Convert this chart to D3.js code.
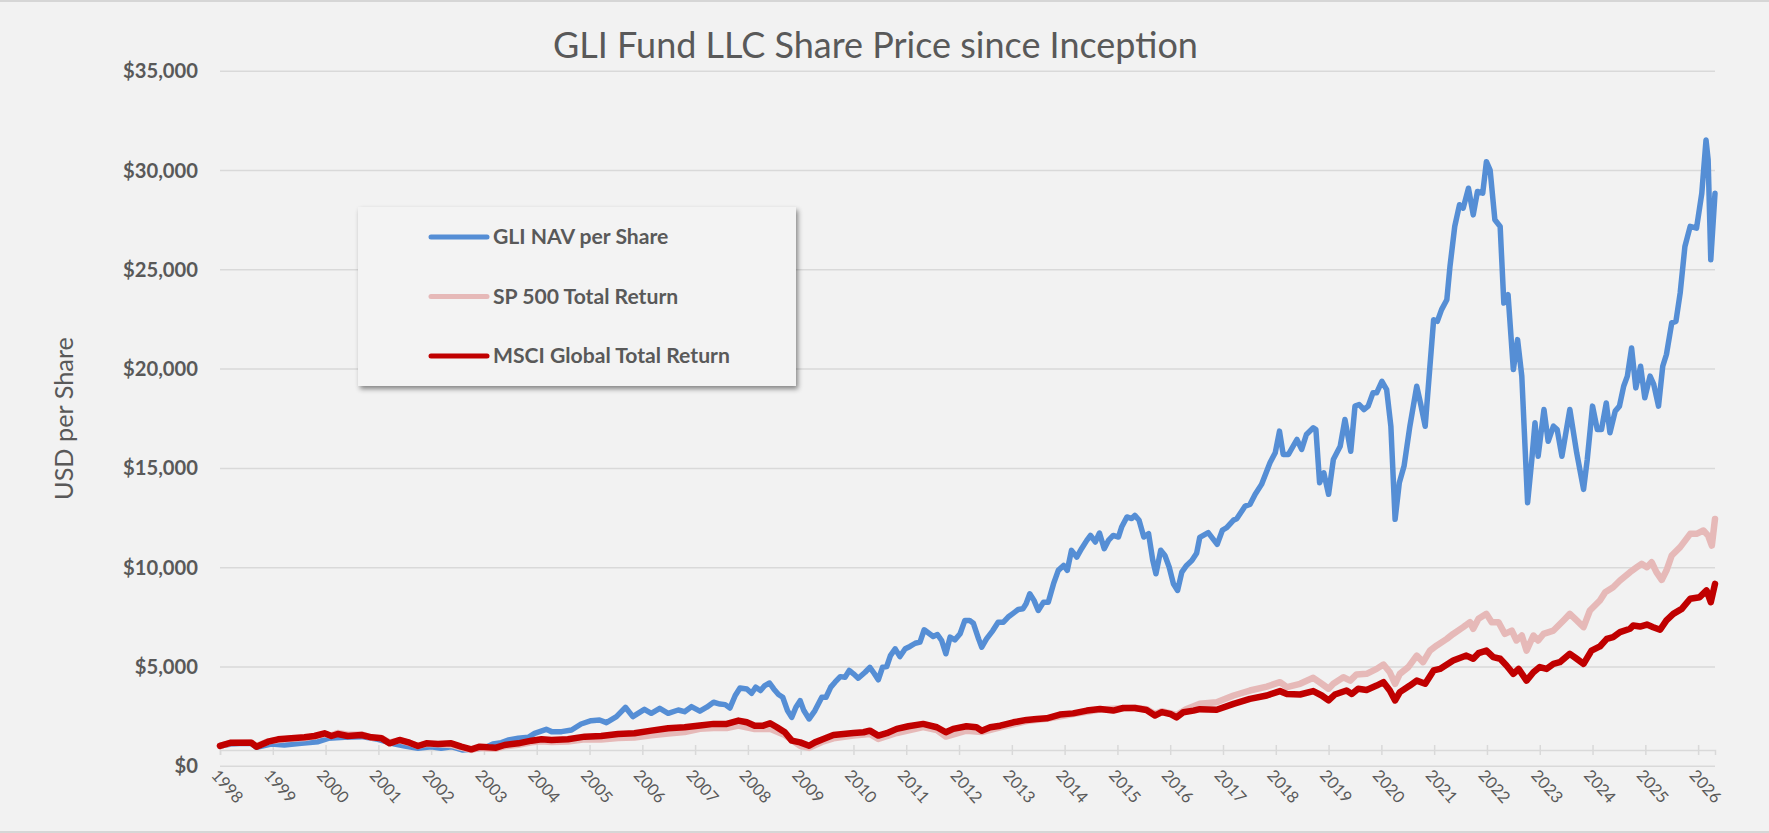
<!DOCTYPE html>
<html><head><meta charset="utf-8">
<script src="https://cdn.jsdelivr.net/npm/d3@7"></script>
<style>html,body{margin:0;padding:0;background:#f2f2f2;overflow:hidden}svg{display:block}</style>
</head><body><svg id="chart" width="1769" height="833"></svg>
<script>
const chartTitle = "GLI Fund LLC Share Price since Inception";
const yAxisTitle = "USD per Share";
const seriesNames = ["GLI NAV per Share", "SP 500 Total Return", "MSCI Global Total Return"];
const yTicks = [0, 5000, 10000, 15000, 20000, 25000, 30000, 35000];
const xTickYears = d3.range(1998, 2027);

const gliDates = [1998.00,1998.21,1998.45,1998.59,1998.69,1998.97,1999.22,1999.54,1999.86,2000.05,2000.36,2000.68,2000.99,2001.31,2001.50,2001.75,2002.00,2002.19,2002.38,2002.60,2002.76,2003.01,2003.17,2003.33,2003.46,2003.65,2003.84,2003.96,2004.18,2004.28,2004.47,2004.66,2004.84,2005.03,2005.19,2005.32,2005.51,2005.68,2005.82,2006.04,2006.17,2006.33,2006.49,2006.68,2006.80,2006.93,2007.09,2007.22,2007.35,2007.47,2007.57,2007.66,2007.76,2007.85,2007.98,2008.07,2008.15,2008.24,2008.32,2008.41,2008.49,2008.58,2008.66,2008.75,2008.83,2008.91,2008.99,2009.06,2009.16,2009.27,2009.40,2009.48,2009.57,2009.65,2009.75,2009.84,2009.92,2010.00,2010.09,2010.22,2010.31,2010.39,2010.47,2010.55,2010.63,2010.70,2010.79,2010.88,2010.98,2011.07,2011.17,2011.26,2011.34,2011.44,2011.51,2011.59,2011.67,2011.75,2011.83,2011.92,2012.02,2012.11,2012.20,2012.27,2012.37,2012.43,2012.52,2012.64,2012.74,2012.84,2012.93,2013.03,2013.12,2013.21,2013.27,2013.34,2013.42,2013.50,2013.60,2013.69,2013.79,2013.88,2013.98,2014.05,2014.13,2014.23,2014.32,2014.42,2014.49,2014.58,2014.66,2014.75,2014.83,2014.92,2015.02,2015.08,2015.18,2015.27,2015.33,2015.41,2015.50,2015.59,2015.67,2015.73,2015.82,2015.90,2015.98,2016.06,2016.14,2016.22,2016.31,2016.41,2016.50,2016.56,2016.72,2016.89,2016.99,2017.07,2017.20,2017.26,2017.42,2017.51,2017.61,2017.73,2017.89,2017.99,2018.07,2018.14,2018.24,2018.40,2018.49,2018.58,2018.71,2018.76,2018.83,2018.91,2019.00,2019.09,2019.22,2019.31,2019.42,2019.50,2019.58,2019.67,2019.75,2019.84,2019.91,2020.01,2020.10,2020.18,2020.26,2020.34,2020.43,2020.54,2020.67,2020.74,2020.83,2020.92,2020.99,2021.06,2021.14,2021.24,2021.30,2021.39,2021.48,2021.55,2021.65,2021.74,2021.82,2021.92,2021.99,2022.06,2022.15,2022.25,2022.32,2022.40,2022.50,2022.58,2022.66,2022.77,2022.85,2022.91,2022.97,2023.08,2023.16,2023.26,2023.33,2023.42,2023.57,2023.70,2023.83,2023.90,2024.00,2024.09,2024.17,2024.26,2024.33,2024.43,2024.51,2024.59,2024.66,2024.74,2024.82,2024.91,2024.99,2025.09,2025.16,2025.25,2025.33,2025.40,2025.50,2025.58,2025.66,2025.75,2025.85,2025.97,2026.07,2026.15,2026.19,2026.24,2026.32];
const gliValues = [1000,1100,1130,1120,930,1098,1047,1132,1215,1384,1434,1468,1333,1098,997,879,963,879,963,795,829,900,1100,1165,1300,1384,1434,1635,1837,1720,1720,1803,2105,2273,2307,2172,2475,2945,2475,2844,2643,2894,2643,2810,2726,2978,2750,2950,3200,3110,3080,2910,3540,3920,3870,3650,3960,3790,4040,4170,3870,3590,3450,2780,2440,2950,3280,2780,2360,2780,3450,3450,3960,4210,4490,4460,4800,4630,4410,4710,4960,4660,4330,4960,5000,5550,5890,5500,5890,6010,6170,6230,6850,6650,6510,6610,6310,5640,6480,6340,6650,7320,7320,7180,6390,5970,6390,6810,7230,7230,7490,7690,7870,7910,8160,8660,8330,7820,8240,8240,9170,9840,10090,9840,10850,10510,10930,11350,11600,11270,11720,10930,11350,11600,11520,12020,12530,12450,12610,12360,11520,11690,10340,9670,10850,10590,10010,9170,8830,9750,10090,10340,10700,11500,11740,11150,11870,11990,12370,12440,13080,13160,13670,14170,15260,15760,16850,15680,15680,16430,15930,16680,17020,16930,14250,14750,13670,15420,16090,17440,15840,18110,18190,17940,18110,18780,18780,19360,18940,17100,12410,14250,15090,17100,19110,18270,17100,20120,22460,22380,22970,23470,25150,27160,28250,28080,29080,27740,28920,28830,30420,30000,27490,27160,23300,23720,19950,21460,19620,13250,15420,17270,15590,17940,16340,17100,16930,15590,17940,15760,13920,15420,18110,16930,16930,18270,16770,17860,18110,19110,19620,21040,19030,20120,18530,19620,19200,18110,20120,20710,22300,22380,23800,26150,27160,27070,28830,31510,30510,25480,28830];

const spDates = [1998.00,1998.21,1998.59,1998.69,1998.91,1999.10,1999.35,1999.60,1999.79,1999.98,2000.11,2000.23,2000.42,2000.68,2000.87,2001.06,2001.21,2001.40,2001.59,2001.75,2001.91,2002.13,2002.38,2002.57,2002.76,2002.92,2003.08,2003.23,2003.39,2003.65,2003.90,2004.09,2004.28,2004.59,2004.91,2005.22,2005.54,2005.85,2006.17,2006.49,2006.80,2007.09,2007.35,2007.60,2007.82,2008.13,2008.42,2008.70,2008.99,2009.16,2009.40,2009.62,2010.00,2010.31,2010.47,2010.82,2011.32,2011.58,2011.75,2012.14,2012.43,2012.78,2013.28,2013.66,2014.16,2014.67,2015.11,2015.33,2015.55,2015.71,2015.84,2016.12,2016.30,2016.56,2016.88,2017.20,2017.51,2017.83,2018.08,2018.21,2018.46,2018.71,2018.87,2019.00,2019.09,2019.28,2019.41,2019.53,2019.72,2019.91,2020.04,2020.16,2020.26,2020.35,2020.51,2020.67,2020.79,2020.92,2021.05,2021.24,2021.36,2021.55,2021.68,2021.74,2021.84,2021.99,2022.09,2022.22,2022.34,2022.47,2022.56,2022.66,2022.75,2022.88,2022.97,2023.07,2023.26,2023.45,2023.57,2023.70,2023.83,2023.95,2024.14,2024.24,2024.39,2024.52,2024.71,2024.84,2024.93,2025.03,2025.12,2025.21,2025.31,2025.40,2025.50,2025.66,2025.85,2025.97,2026.10,2026.19,2026.26,2026.32];
const spValues = [1000,1150,1180,990,1230,1300,1360,1400,1480,1600,1520,1650,1560,1580,1420,1400,1180,1280,1150,1000,1100,1080,1050,920,800,900,870,860,980,1060,1180,1230,1200,1220,1330,1330,1400,1420,1540,1630,1700,1860,1900,1900,2020,1850,1860,1550,1010,900,1200,1380,1520,1600,1350,1650,1950,1800,1470,1770,1700,1940,2250,2370,2600,2830,2900,2920,2850,2610,2750,2560,2850,3120,3200,3540,3790,3990,4210,3960,4130,4430,4130,3880,4130,4460,4290,4600,4630,4880,5100,4710,4130,4630,4970,5550,5220,5800,6060,6390,6640,6980,7230,6900,7400,7650,7230,7230,6640,6810,6310,6560,5800,6560,6310,6640,6810,7320,7650,7320,6980,7820,8320,8740,8990,9330,9750,10000,10170,10000,10250,9750,9360,9830,10590,11010,11680,11680,11850,11590,11090,12430];

const msciDates = [1998.00,1998.21,1998.59,1998.69,1998.91,1999.10,1999.35,1999.60,1999.79,1999.98,2000.11,2000.23,2000.42,2000.68,2000.87,2001.06,2001.21,2001.40,2001.59,2001.75,2001.91,2002.13,2002.38,2002.57,2002.76,2002.92,2003.08,2003.23,2003.39,2003.65,2003.90,2004.09,2004.28,2004.59,2004.91,2005.22,2005.54,2005.85,2006.17,2006.49,2006.80,2007.09,2007.35,2007.60,2007.82,2007.98,2008.13,2008.29,2008.42,2008.55,2008.70,2008.83,2008.99,2009.16,2009.27,2009.43,2009.62,2009.81,2010.00,2010.19,2010.31,2010.47,2010.63,2010.82,2011.04,2011.32,2011.58,2011.75,2011.89,2012.14,2012.33,2012.43,2012.59,2012.78,2013.03,2013.28,2013.47,2013.66,2013.91,2014.16,2014.42,2014.67,2014.92,2015.11,2015.33,2015.55,2015.71,2015.84,2016.00,2016.12,2016.25,2016.44,2016.56,2016.88,2017.20,2017.51,2017.83,2018.08,2018.21,2018.46,2018.71,2018.87,2019.00,2019.12,2019.34,2019.44,2019.56,2019.72,2019.91,2020.04,2020.16,2020.26,2020.35,2020.54,2020.67,2020.83,2020.99,2021.11,2021.36,2021.61,2021.74,2021.84,2021.99,2022.12,2022.25,2022.37,2022.50,2022.60,2022.75,2022.88,2023.00,2023.13,2023.26,2023.38,2023.57,2023.70,2023.83,2023.98,2024.14,2024.27,2024.39,2024.52,2024.71,2024.77,2024.90,2025.03,2025.15,2025.28,2025.40,2025.53,2025.69,2025.85,2026.03,2026.16,2026.24,2026.32];
const msciValues = [1000,1165,1165,963,1215,1333,1384,1434,1501,1635,1501,1602,1501,1552,1434,1384,1132,1300,1165,997,1132,1098,1132,963,829,963,930,913,1047,1132,1266,1333,1300,1333,1468,1501,1602,1635,1770,1887,1938,2030,2110,2110,2275,2190,2020,2020,2140,1940,1690,1270,1180,1010,1180,1350,1550,1600,1650,1690,1770,1520,1640,1860,1990,2110,1940,1690,1860,1990,1940,1770,1940,2020,2190,2310,2360,2390,2580,2640,2780,2860,2780,2910,2910,2810,2530,2700,2610,2440,2700,2780,2850,2820,3120,3370,3540,3760,3620,3590,3760,3540,3290,3590,3790,3620,3880,3820,4040,4210,3790,3290,3710,4040,4290,4130,4800,4880,5300,5550,5390,5670,5800,5470,5390,5050,4630,4880,4290,4710,4970,4880,5130,5220,5640,5390,5130,5800,6010,6390,6480,6730,6900,7060,7010,7110,6980,6850,7320,7650,7900,8410,8490,8830,8240,9160];

const seriesDates = [gliDates, spDates, msciDates];
const seriesValues = [gliValues, spValues, msciValues];
const seriesColors = ["#558ed5", "#e6b9b8", "#c00000"];
const seriesWidths = [5.5, 6.5, 6.5];

const W = 1769, H = 833;
const svg = d3.select("#chart");
const FONT = "Lato, 'Open Sans', sans-serif";
const GREY = "#595959";

const defs = svg.append("defs");
const f = defs.append("filter").attr("id", "shadow").attr("x", "-10%").attr("y", "-10%").attr("width", "120%").attr("height", "130%");
f.append("feDropShadow").attr("dx", 2).attr("dy", 3).attr("stdDeviation", 2.5).attr("flood-color", "#000").attr("flood-opacity", 0.45);

svg.append("rect").attr("width", W).attr("height", H).attr("fill", "#f2f2f2");
svg.append("line").attr("x1", 0).attr("x2", W).attr("y1", 1).attr("y2", 1).attr("stroke", "#d6d6d6").attr("stroke-width", 2);
svg.append("line").attr("x1", 0).attr("x2", W).attr("y1", 832).attr("y2", 832).attr("stroke", "#d6d6d6").attr("stroke-width", 2);

const x = d3.scaleLinear().domain([1998, 2026.32]).range([220, 1715]);
const y = d3.scaleLinear().domain([0, 35000]).range([765.8, 70.7]);

function fitGroup(sel, sample, target) {
  const w = sample.node().getComputedTextLength();
  const fs = parseFloat(sample.attr("font-size"));
  sel.attr("font-size", fs * target / w);
}

// gridlines
const grid = svg.append("g").attr("transform", "translate(220,0)")
  .call(d3.axisLeft(y).tickValues(yTicks).tickSize(-(1715 - 220)).tickFormat(""));
grid.select(".domain").remove();
grid.selectAll(".tick line").attr("stroke", "#d9d9d9").attr("stroke-width", 1.5);

// y labels
const yl = svg.append("g").attr("transform", "translate(198,0)")
  .call(d3.axisLeft(y).tickValues(yTicks).tickSize(0).tickPadding(0).tickFormat(d => "$" + d3.format(",")(d)));
yl.select(".domain").remove();
const ytx = yl.selectAll(".tick text").attr("font-family", FONT).attr("font-weight", "bold").attr("font-size", 18).attr("fill", GREY).attr("dy", "0.35em");
fitGroup(ytx, yl.selectAll(".tick text").filter(d => d === 35000), 75);

// x axis
const xa = svg.append("g").attr("transform", "translate(0,750)")
  .call(d3.axisBottom(x).tickValues(xTickYears).tickSizeOuter(0).tickSize(5).tickFormat(d3.format("d")));
xa.select(".domain").attr("stroke", "#d9d9d9").attr("stroke-width", 1.5);
xa.selectAll(".tick line").attr("y1", -5).attr("y2", 5).attr("stroke", "#d9d9d9").attr("stroke-width", 1.5);
const xtx = xa.selectAll(".tick text").attr("x", 0).attr("y", 0).attr("dy", 0)
  .attr("text-anchor", "start").attr("transform", "translate(-10,26) rotate(48)")
  .attr("font-family", FONT).attr("font-size", 17).attr("fill", GREY);
fitGroup(xtx, xa.selectAll(".tick text").filter(d => d === 1998), 38);

// lines
const line = d3.line().x(d => x(d[0])).y(d => y(d[1]));
seriesNames.forEach((name, i) => {
  const pts = seriesDates[i].map((t, j) => [t, seriesValues[i][j]]);
  svg.append("path").datum(pts).attr("d", line).attr("fill", "none")
    .attr("stroke", seriesColors[i]).attr("stroke-width", seriesWidths[i])
    .attr("stroke-linejoin", "round").attr("stroke-linecap", "round");
});

// title
const tt = svg.append("text").attr("x", 875.5).attr("y", 58).attr("text-anchor", "middle")
  .attr("font-family", FONT).attr("font-size", 32).attr("fill", GREY).text(chartTitle);
fitGroup(tt, tt, 645);

// y axis title
const at = svg.append("text").attr("transform", "translate(63,418.5) rotate(-90)").attr("text-anchor", "middle")
  .attr("dominant-baseline", "central").attr("font-family", FONT).attr("font-size", 23).attr("fill", GREY).text(yAxisTitle);
fitGroup(at, at, 163);

// legend
const lg = svg.append("g");
lg.append("rect").attr("x", 358).attr("y", 207).attr("width", 438).attr("height", 179)
  .attr("fill", "#f3f3f3").attr("filter", "url(#shadow)");
const ly = d3.scalePoint().domain(seriesNames).range([237, 356]);
const items = lg.selectAll("g.item").data(seriesNames).join("g").attr("class", "item")
  .attr("transform", d => `translate(0,${ly(d)})`);
items.append("line").attr("x1", 431).attr("x2", 487).attr("y1", 0).attr("y2", 0)
  .attr("stroke", (d, i) => seriesColors[i]).attr("stroke-width", 5).attr("stroke-linecap", "round");
const ltx = items.append("text").attr("x", 493).attr("y", 0).attr("dy", "0.35em")
  .attr("font-family", FONT).attr("font-weight", "bold").attr("font-size", 20).attr("fill", GREY).text(d => d);
fitGroup(ltx, ltx.filter((d, i) => i === 2), 237);
</script>
</body></html>
